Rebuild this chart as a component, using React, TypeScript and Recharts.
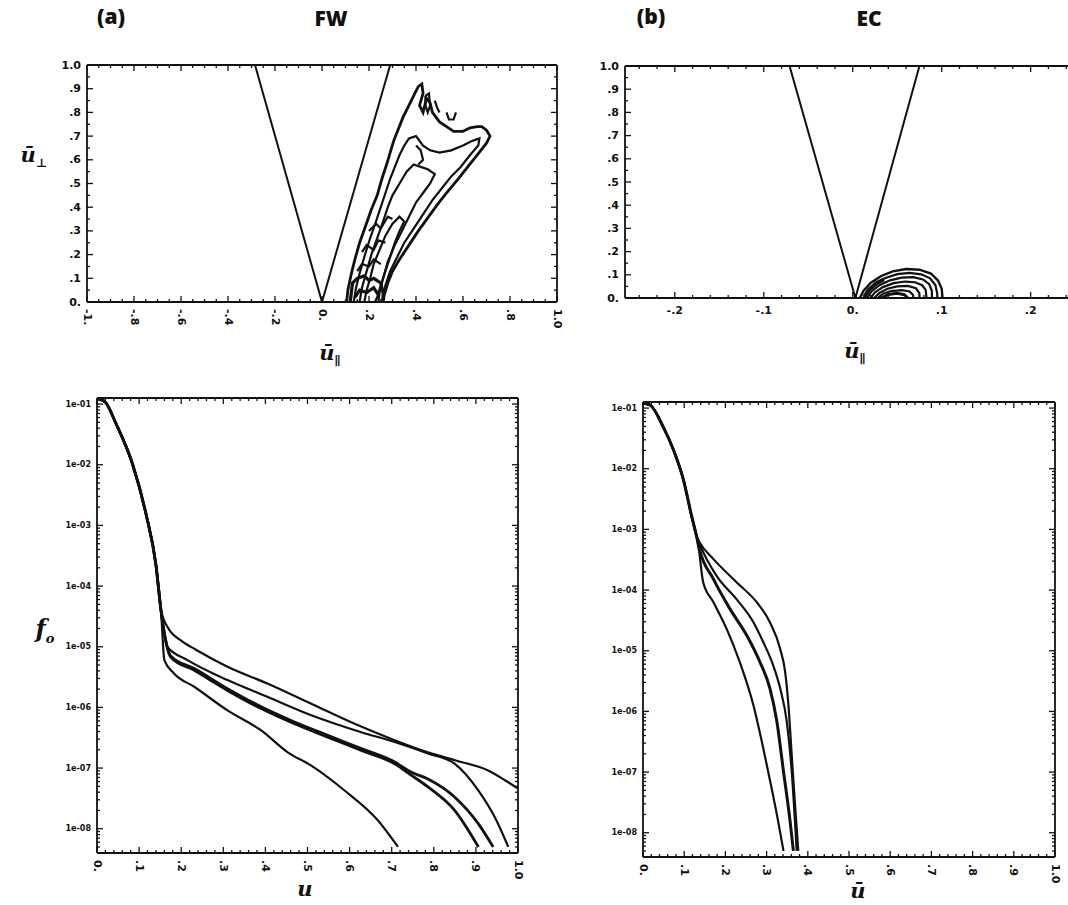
import React from "react";
import { LineChart, Line, XAxis, YAxis } from "recharts";

// ---------- top panels: (u_par, u_perp) contours ----------
const fwCone = [[-0.285, 1.0], [0, 0], [0.29, 1.0]];
const fwContourOuter = [
  [0.105, 0.0], [0.11, 0.05], [0.125, 0.12], [0.14, 0.18], [0.16, 0.25], [0.185, 0.32], [0.21, 0.39],
  [0.235, 0.45], [0.255, 0.52], [0.275, 0.58], [0.29, 0.63], [0.305, 0.68], [0.325, 0.73], [0.345, 0.78],
  [0.37, 0.83], [0.395, 0.88], [0.41, 0.91], [0.425, 0.92], [0.43, 0.88], [0.415, 0.83], [0.43, 0.8],
  [0.445, 0.86], [0.46, 0.84], [0.47, 0.8], [0.5, 0.76], [0.53, 0.74], [0.56, 0.72], [0.6, 0.72],
  [0.63, 0.735], [0.66, 0.74], [0.68, 0.74], [0.7, 0.725], [0.715, 0.7], [0.7, 0.67], [0.66, 0.62],
  [0.62, 0.57], [0.58, 0.52], [0.53, 0.46], [0.49, 0.41], [0.45, 0.355], [0.41, 0.3], [0.37, 0.24],
  [0.33, 0.18], [0.3, 0.13], [0.28, 0.08], [0.265, 0.03], [0.26, 0.0],
];
const fwContour2 = [
  [0.135, 0], [0.145, 0.06], [0.16, 0.12], [0.18, 0.19], [0.205, 0.27], [0.23, 0.34], [0.25, 0.4],
  [0.27, 0.46], [0.29, 0.52], [0.31, 0.57], [0.33, 0.62], [0.35, 0.66], [0.37, 0.69], [0.4, 0.7],
  [0.43, 0.66], [0.46, 0.64], [0.5, 0.63], [0.55, 0.64], [0.6, 0.66], [0.64, 0.68], [0.67, 0.69],
  [0.665, 0.66], [0.63, 0.62], [0.59, 0.57], [0.55, 0.53], [0.51, 0.48], [0.47, 0.43], [0.43, 0.37],
  [0.39, 0.31], [0.35, 0.25], [0.32, 0.19], [0.29, 0.13], [0.27, 0.07], [0.255, 0],
];
const fwContour3 = [
  [0.16, 0], [0.17, 0.06], [0.19, 0.13], [0.21, 0.2], [0.235, 0.27], [0.26, 0.34], [0.28, 0.4],
  [0.3, 0.45], [0.33, 0.5], [0.36, 0.55], [0.39, 0.58], [0.42, 0.57], [0.45, 0.56], [0.48, 0.54],
  [0.46, 0.5], [0.43, 0.46], [0.4, 0.42], [0.37, 0.36], [0.34, 0.3], [0.31, 0.24], [0.28, 0.17],
  [0.26, 0.1], [0.245, 0.04], [0.24, 0],
];
const fwContour4 = [
  [0.18, 0], [0.19, 0.05], [0.205, 0.1], [0.22, 0.16], [0.245, 0.22], [0.27, 0.28], [0.3, 0.33],
  [0.33, 0.36], [0.35, 0.34], [0.33, 0.3], [0.31, 0.25], [0.29, 0.19], [0.27, 0.13], [0.25, 0.07],
  [0.235, 0.02], [0.225, 0],
];
const fwIsland1 = [[0.44, 0.87], [0.455, 0.88], [0.46, 0.83], [0.45, 0.8], [0.44, 0.83], [0.44, 0.87]];
const fwIsland2 = [[0.53, 0.8], [0.54, 0.77], [0.56, 0.77], [0.57, 0.8]];
const fwIsland3 = [[0.48, 0.85], [0.49, 0.82], [0.5, 0.8]];
const fwIsland4 = [[0.4, 0.66], [0.42, 0.64], [0.43, 0.6], [0.41, 0.58]];
const fwBottom1 = [[0.12, 0], [0.125, 0.04], [0.13, 0.08], [0.15, 0.1], [0.18, 0.11], [0.2, 0.09], [0.22, 0.1], [0.25, 0.08], [0.26, 0.04], [0.26, 0]];
const fwBottom2 = [[0.14, 0.02], [0.16, 0.05], [0.19, 0.04], [0.22, 0.06], [0.24, 0.03]];
const fwBottom3 = [[0.15, 0.13], [0.17, 0.16], [0.2, 0.15], [0.22, 0.18], [0.25, 0.16]];
const fwBottom4 = [[0.17, 0.21], [0.19, 0.24], [0.22, 0.22], [0.24, 0.26], [0.27, 0.25]];
const fwBottom5 = [[0.2, 0.3], [0.23, 0.33], [0.25, 0.31], [0.28, 0.36], [0.3, 0.35]];

const ecCone = [[-0.071, 1.0], [0.003, 0], [0.075, 1.0]];
const ecDome1 = [[0.008, 0], [0.012, 0.03], [0.02, 0.065], [0.032, 0.095], [0.045, 0.115], [0.06, 0.125], [0.075, 0.122], [0.088, 0.105], [0.096, 0.075], [0.1, 0.04], [0.101, 0]];
const ecDome2 = [[0.012, 0], [0.017, 0.03], [0.025, 0.06], [0.036, 0.085], [0.05, 0.103], [0.064, 0.108], [0.077, 0.102], [0.087, 0.085], [0.093, 0.055], [0.095, 0.02], [0.095, 0]];
const ecDome3 = [[0.016, 0], [0.021, 0.028], [0.03, 0.055], [0.042, 0.076], [0.055, 0.088], [0.068, 0.09], [0.079, 0.08], [0.086, 0.06], [0.089, 0.03], [0.089, 0]];
const ecDome4 = [[0.02, 0], [0.025, 0.025], [0.034, 0.047], [0.046, 0.064], [0.059, 0.071], [0.07, 0.068], [0.078, 0.055], [0.082, 0.035], [0.083, 0]];
const ecDome5 = [[0.024, 0], [0.03, 0.022], [0.039, 0.04], [0.05, 0.05], [0.062, 0.052], [0.071, 0.042], [0.075, 0.02], [0.075, 0]];
const ecDome6 = [[0.028, 0], [0.034, 0.018], [0.043, 0.03], [0.055, 0.034], [0.064, 0.028], [0.068, 0.012], [0.068, 0]];
const ecDome7 = [[0.032, 0], [0.04, 0.015], [0.05, 0.02], [0.058, 0.014], [0.062, 0]];
const ecDomeDark = [[0.013, 0.004], [0.018, 0.035], [0.027, 0.065], [0.035, 0.08]];

// ---------- bottom panels: log10 f0 vs u ----------
const fwTrunk = [[0, -0.92], [0.01, -0.93], [0.02, -0.97], [0.045, -1.32], [0.084, -1.98], [0.116, -2.8], [0.14, -3.65], [0.152, -4.4]];
const fwCurveA = [[0.168, -4.68], [0.2, -4.9], [0.235, -5.05], [0.31, -5.33], [0.406, -5.61], [0.509, -5.94], [0.612, -6.27], [0.707, -6.54], [0.786, -6.74], [0.85, -6.87], [0.929, -7.04], [0.969, -7.2], [0.998, -7.33]];
const fwCurveB = [[0.167, -5.0], [0.215, -5.22], [0.31, -5.55], [0.406, -5.83], [0.509, -6.13], [0.628, -6.41], [0.707, -6.57], [0.786, -6.76], [0.85, -6.93], [0.906, -7.37], [0.945, -7.81], [0.977, -8.3]];
const fwCurveC = [[0.175, -5.17], [0.231, -5.39], [0.31, -5.72], [0.39, -6.02], [0.469, -6.27], [0.548, -6.49], [0.628, -6.71], [0.707, -6.93], [0.747, -7.12], [0.786, -7.31], [0.85, -7.7], [0.906, -8.3]];
const fwCurveD = [[0.175, -5.15], [0.231, -5.36], [0.31, -5.69], [0.39, -5.99], [0.469, -6.24], [0.548, -6.46], [0.628, -6.68], [0.707, -6.9], [0.747, -7.07], [0.786, -7.18], [0.85, -7.48], [0.906, -7.92], [0.941, -8.3]];
const fwCurveE = [[0.16, -5.22], [0.183, -5.44], [0.231, -5.66], [0.31, -6.05], [0.39, -6.38], [0.453, -6.74], [0.509, -6.96], [0.588, -7.37], [0.667, -7.86], [0.715, -8.3]];

const ecTrunk = [[0, -0.92], [0.017, -0.95], [0.049, -1.31], [0.074, -1.69], [0.098, -2.18], [0.118, -2.78], [0.13, -3.11]];
const ecCurve1 = [[0.138, -3.22], [0.171, -3.49], [0.227, -3.87], [0.276, -4.2], [0.308, -4.53], [0.333, -4.97], [0.345, -5.35], [0.353, -5.9], [0.361, -6.72], [0.369, -7.54], [0.377, -8.3]];
const ecCurve2 = [[0.138, -3.25], [0.179, -3.77], [0.227, -4.15], [0.268, -4.53], [0.292, -4.86], [0.316, -5.24], [0.333, -5.62], [0.349, -6.17], [0.361, -6.99], [0.373, -8.3]];
const ecCurve3 = [[0.136, -3.3], [0.171, -3.82], [0.211, -4.31], [0.252, -4.75], [0.284, -5.19], [0.308, -5.62], [0.325, -6.17], [0.341, -6.99], [0.357, -7.81], [0.365, -8.3]];
const ecCurve4 = [[0.136, -3.35], [0.146, -3.87], [0.171, -4.2], [0.203, -4.64], [0.235, -5.19], [0.268, -5.9], [0.292, -6.61], [0.312, -7.26], [0.328, -7.81], [0.341, -8.3]];

// ---------- tick labels ----------
const perpTicks = [0, 0.1, 0.2, 0.3, 0.4, 0.5, 0.6, 0.7, 0.8, 0.9, 1.0];
const perpLabels = ["0.", ".1", ".2", ".3", ".4", ".5", ".6", ".7", ".8", ".9", "1.0"];
const fwParTicks = [-1, -0.8, -0.6, -0.4, -0.2, 0, 0.2, 0.4, 0.6, 0.8, 1];
const fwParLabels = ["-1.", "-.8", "-.6", "-.4", "-.2", "0.", ".2", ".4", ".6", ".8", "1.0"];
const ecParTicks = [-0.2, -0.1, 0, 0.1, 0.2];
const ecParLabels = ["-.2", "-.1", "0.", ".1", ".2"];
const uTicks = [0, 0.1, 0.2, 0.3, 0.4, 0.5, 0.6, 0.7, 0.8, 0.9, 1.0];
const uLabels = ["0.", ".1", ".2", ".3", ".4", ".5", ".6", ".7", ".8", ".9", "1.0"];
const logTicks = [-1, -2, -3, -4, -5, -6, -7, -8];
const logLabels = ["1e-01", "1e-02", "1e-03", "1e-04", "1e-05", "1e-06", "1e-07", "1e-08"];

const range = (a: number, b: number, s: number) => {
  const out: number[] = [];
  for (let v = a; v <= b + 1e-9; v += s) out.push(Math.round(v * 1000) / 1000);
  return out;
};
const logMinors = () => {
  const out: number[] = [];
  for (let d = -9; d <= -1; d++) for (let k = 1; k <= 9; k++) out.push(d + Math.log10(k));
  return out.filter((v) => v >= -8.4 && v <= -0.9);
};

type Side = "bottom" | "top" | "left" | "right";
const INK = "#111";

const makeTick = (side: Side, majors: number[], labels: string[] | null, rotate: boolean, fontSize: number) =>
  (props: any) => {
    const { x, y, payload } = props;
    const v = payload.value;
    const idx = majors.findIndex((m) => Math.abs(m - v) < 1e-6);
    const len = idx >= 0 ? 6 : 3;
    const label = idx >= 0 && labels ? labels[idx] : null;
    let line = null;
    let text = null;
    if (side === "bottom") {
      line = <line x1={x} y1={y} x2={x} y2={y - len} stroke={INK} strokeWidth={1.3} />;
      if (label)
        text = rotate ? (
          <text transform={`translate(${x},${y + 7}) rotate(90)`} textAnchor="start" dominantBaseline="central"
            fontSize={fontSize} fontWeight="bold" fontFamily="DejaVu Sans" fill={INK}>{label}</text>
        ) : (
          <text x={x} y={y + 8} textAnchor="middle" dominantBaseline="hanging"
            fontSize={fontSize} fontWeight="bold" fontFamily="DejaVu Sans" fill={INK}>{label}</text>
        );
    } else if (side === "top") {
      line = <line x1={x} y1={y} x2={x} y2={y + len} stroke={INK} strokeWidth={1.3} />;
    } else if (side === "left") {
      line = <line x1={x} y1={y} x2={x + len} y2={y} stroke={INK} strokeWidth={1.3} />;
      if (label)
        text = (
          <text x={x - 6} y={y} textAnchor="end" dominantBaseline="central"
            fontSize={fontSize} fontWeight="bold" fontFamily="DejaVu Sans" fill={INK}>{label}</text>
        );
    } else {
      line = <line x1={x} y1={y} x2={x - len} y2={y} stroke={INK} strokeWidth={1.3} />;
    }
    return <g>{line}{text}</g>;
  };

type Curve = { pts: number[][]; w?: number; kind?: "linear" | "monotone" };
type PanelProps = {
  left: number; top: number; plotW: number; plotH: number;
  xDomain: [number, number]; yDomain: [number, number];
  xTicks: number[]; xMajors: number[]; xLabels: string[]; rotateX: boolean;
  yTicks: number[]; yMajors: number[]; yLabels: string[]; yFont: number;
  curves: Curve[]; frameRight: boolean;
};

const LEFT_W = 50;
const BOTTOM_H = 40;
const TOP_H = 10;
const RIGHT_W = 14;
const axisStyle = { stroke: INK, strokeWidth: 1.8 };

function Panel(p: PanelProps) {
  const rightW = p.frameRight ? RIGHT_W : 0;
  const width = LEFT_W + p.plotW + rightW;
  const height = TOP_H + p.plotH + BOTTOM_H;
  const common = { type: "number" as const, allowDataOverflow: true, interval: 0 as const, tickSize: 0, tickMargin: 0, tickLine: false, axisLine: axisStyle };
  return (
    <div style={{ position: "absolute", left: p.left - LEFT_W, top: p.top - TOP_H }}>
      <LineChart width={width} height={height} margin={{ top: 0, right: 0, bottom: 0, left: 0 }}>
        <XAxis xAxisId="b" dataKey="x" orientation="bottom" height={BOTTOM_H} domain={p.xDomain} ticks={p.xTicks} {...common}
          tick={makeTick("bottom", p.xMajors, p.xLabels, p.rotateX, 11)} />
        <XAxis xAxisId="t" dataKey="x" orientation="top" height={TOP_H} domain={p.xDomain} ticks={p.xTicks} {...common}
          tick={makeTick("top", p.xMajors, null, false, 11)} />
        <YAxis yAxisId="l" dataKey="y" orientation="left" width={LEFT_W} domain={p.yDomain} ticks={p.yTicks} {...common}
          tick={makeTick("left", p.yMajors, p.yLabels, false, p.yFont)} />
        {p.frameRight && (
          <YAxis yAxisId="r" dataKey="y" orientation="right" width={RIGHT_W} domain={p.yDomain} ticks={p.yTicks} {...common}
            tick={makeTick("right", p.yMajors, null, false, 10)} />
        )}
        {p.curves.map((c, i) => (
          <Line key={i} xAxisId="b" yAxisId="l" data={c.pts.map(([x, y]) => ({ x, y }))} dataKey="y"
            type={c.kind ?? "linear"} stroke={INK} strokeWidth={c.w ?? 2.2} dot={false} activeDot={false}
            isAnimationActive={false} />
        ))}
      </LineChart>
    </div>
  );
}

const label = (text: React.ReactNode, x: number, y: number, style: React.CSSProperties = {}) => (
  <div style={{ position: "absolute", left: x, top: y, transform: "translate(-50%,-50%)", whiteSpace: "nowrap", color: INK, ...style }}>
    {text}
  </div>
);
const titleFont: React.CSSProperties = { fontFamily: "'Open Sans', 'DejaVu Sans', sans-serif", fontWeight: 800, fontSize: 21 };
const mathFont: React.CSSProperties = { fontFamily: "'DejaVu Serif', serif", fontWeight: "bold", fontStyle: "italic", fontSize: 21 };

export default function App() {
  const fwCurves: Curve[] = [
    { pts: fwCone, w: 2 },
    { pts: fwContourOuter, w: 2.8 }, { pts: fwContour2 }, { pts: fwContour3 }, { pts: fwContour4 },
    { pts: fwIsland1 }, { pts: fwIsland2 }, { pts: fwIsland3 }, { pts: fwIsland4 },
    { pts: fwBottom1, w: 3.2 }, { pts: fwBottom2, w: 3.2 }, { pts: fwBottom3 }, { pts: fwBottom4 }, { pts: fwBottom5 },
  ];
  const ecCurves: Curve[] = [
    { pts: ecCone, w: 2 },
    { pts: ecDome1, w: 2.4 }, { pts: ecDome2 }, { pts: ecDome3 }, { pts: ecDome4 }, { pts: ecDome5 },
    { pts: ecDome6 }, { pts: ecDome7, w: 3 }, { pts: ecDomeDark, w: 4 },
  ];
  const join = (trunk: number[][], branch: number[][]) => [...trunk, ...branch];
  const fwLog: Curve[] = [
    { pts: join(fwTrunk, fwCurveA), kind: "monotone" },
    { pts: join(fwTrunk, fwCurveB), kind: "monotone" },
    { pts: join(fwTrunk, fwCurveC), kind: "monotone", w: 2.8 },
    { pts: join(fwTrunk, fwCurveD), kind: "monotone", w: 2.8 },
    { pts: join(fwTrunk, fwCurveE), kind: "monotone" },
  ];
  const ecLog: Curve[] = [
    { pts: join(ecTrunk, ecCurve1), kind: "monotone" },
    { pts: join(ecTrunk, ecCurve2), kind: "monotone" },
    { pts: join(ecTrunk, ecCurve3), kind: "monotone", w: 3 },
    { pts: join(ecTrunk, ecCurve4), kind: "monotone" },
  ];
  const logAll = logMinors();

  return (
    <div style={{ position: "absolute", left: 0, top: 0, width: 1068, height: 905, overflow: "hidden", background: "#fff" }}>
      <Panel left={87} top={65} plotW={470} plotH={237} xDomain={[-1, 1]} yDomain={[0, 1]}
        xTicks={range(-1, 1, 0.05)} xMajors={fwParTicks} xLabels={fwParLabels} rotateX
        yTicks={range(0, 1, 0.05)} yMajors={perpTicks} yLabels={perpLabels} yFont={11}
        curves={fwCurves} frameRight />
      <Panel left={625} top={66} plotW={443} plotH={232} xDomain={[-0.256, 0.242]} yDomain={[0, 1]}
        xTicks={range(-0.24, 0.24, 0.02)} xMajors={ecParTicks} xLabels={ecParLabels} rotateX={false}
        yTicks={range(0, 1, 0.05)} yMajors={perpTicks} yLabels={perpLabels} yFont={11}
        curves={ecCurves} frameRight={false} />
      <Panel left={97} top={398} plotW={421} plotH={455} xDomain={[0, 1]} yDomain={[-8.4, -0.9]}
        xTicks={range(0, 1, 0.02)} xMajors={uTicks} xLabels={uLabels} rotateX
        yTicks={logAll} yMajors={logTicks} yLabels={logLabels} yFont={8}
        curves={fwLog} frameRight />
      <Panel left={643} top={402} plotW={412} plotH={455} xDomain={[0, 1]} yDomain={[-8.4, -0.9]}
        xTicks={range(0, 1, 0.02)} xMajors={uTicks} xLabels={uLabels} rotateX
        yTicks={logAll} yMajors={logTicks} yLabels={logLabels} yFont={8}
        curves={ecLog} frameRight />

      {label("(a)", 111, 16, titleFont)}
      {label("FW", 331, 18, titleFont)}
      {label("(b)", 651, 16, titleFont)}
      {label("EC", 869, 18, titleFont)}
      {label(<span>ū<sub style={{ fontSize: 12 }}>⊥</sub></span>, 34, 156, mathFont)}
      {label(<span>ū<sub style={{ fontSize: 12 }}>∥</sub></span>, 330, 354, mathFont)}
      {label(<span>ū<sub style={{ fontSize: 12 }}>∥</sub></span>, 855, 352, mathFont)}
      {label(<span>f<sub style={{ fontSize: 13 }}>o</sub></span>, 45, 630, { ...mathFont, fontSize: 24 })}
      {label("u", 305, 888, mathFont)}
      {label("ū", 858, 890, mathFont)}
    </div>
  );
}
